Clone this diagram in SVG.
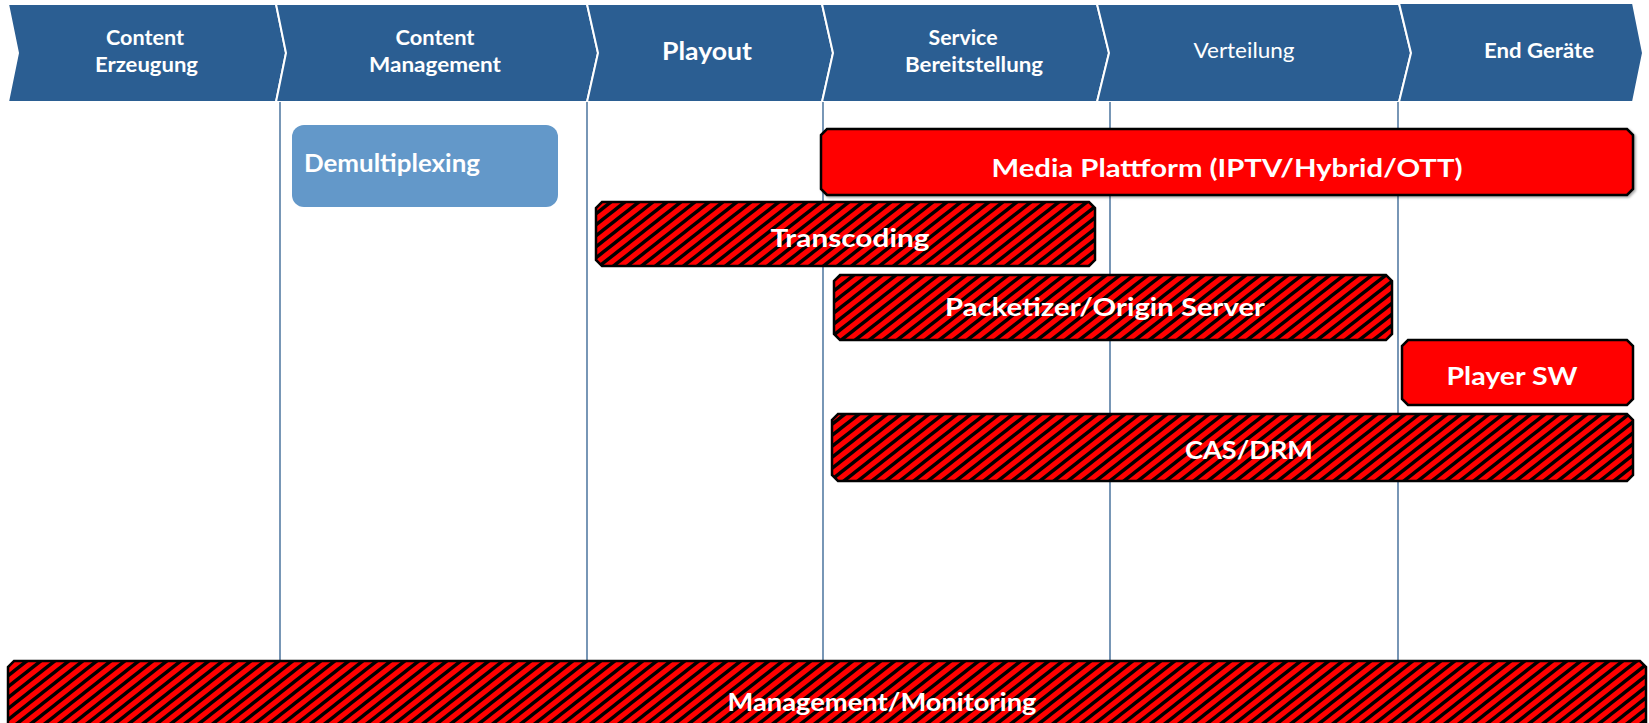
<svg xmlns="http://www.w3.org/2000/svg" width="1649" height="723" viewBox="0 0 1649 723">
  <defs>
    <style>
      .chev { fill: #2B5E92; stroke: #FFFFFF; stroke-width: 2; stroke-linejoin: miter; }
      .hdr { font-family: Lato, "Open Sans", sans-serif; font-size: 21px; font-weight: 700; fill: #FFFFFF; text-anchor: middle; }
      .hdr-big { font-size: 25px; }
      .hdr-reg { font-weight: 400; }
      .lane { stroke: #2F5F8F; stroke-width: 1.3; fill: none; }
      .box-solid { fill: #FF0000; stroke: #000000; stroke-width: 2.5; stroke-linejoin: miter; }
      .box-hatch { fill: url(#hatch); stroke: #000000; stroke-width: 2.5; stroke-linejoin: miter; }
      .box-blue { fill: #6398C9; }
      .lbl { font-family: Lato, "Open Sans", sans-serif; font-size: 25px; font-weight: 700; fill: #FFFFFF; text-anchor: middle; }
    </style>
    <!-- red field with dark upward diagonal stripes -->
    <pattern id="hatch" patternUnits="userSpaceOnUse" width="14" height="11">
      <rect width="14" height="11" fill="#FF0000"/>
      <path d="M-3.5,2.75 L3.5,-2.75 M0,11 L14,0 M10.5,13.75 L17.5,8.25" stroke="#000000" stroke-width="3.4"/>
    </pattern>
    <filter id="shadow" x="-5%" y="-20%" width="110%" height="140%">
      <feDropShadow dx="1.5" dy="1.5" stdDeviation="1" flood-color="#000000" flood-opacity="0.35"/>
    </filter>
  </defs>

  <!-- process stage chevrons -->
  <g id="header">
    <polygon id="stage-erzeugung" class="chev" points="8,4 276,4 286,53 276,102 8,102 18,53"/>
    <polygon id="stage-management" class="chev" points="276,4 587,4 598,53 587,102 276,102 286,53"/>
    <polygon id="stage-playout" class="chev" points="587,4 822,4 833,53 822,102 587,102 598,53"/>
    <polygon id="stage-service" class="chev" points="822,4 1097,4 1109,53 1097,102 822,102 833,53"/>
    <polygon id="stage-verteilung" class="chev" points="1097,4 1399,4 1411,53 1399,102 1097,102 1109,53"/>
    <polygon id="stage-endgeraete" class="chev" points="1399,3 1633,3 1643,53 1633,102 1399,102 1411,53"/>

    <text class="hdr" x="145" y="45" textLength="78" lengthAdjust="spacingAndGlyphs">Content</text>
    <text class="hdr" x="146.5" y="72" textLength="103" lengthAdjust="spacingAndGlyphs">Erzeugung</text>
    <text class="hdr" x="435" y="45" textLength="79" lengthAdjust="spacingAndGlyphs">Content</text>
    <text class="hdr" x="435" y="72" textLength="132" lengthAdjust="spacingAndGlyphs">Management</text>
    <text class="hdr hdr-big" x="707" y="60" textLength="90" lengthAdjust="spacingAndGlyphs">Playout</text>
    <text class="hdr" x="963" y="45" textLength="69" lengthAdjust="spacingAndGlyphs">Service</text>
    <text class="hdr" x="974" y="72" textLength="138" lengthAdjust="spacingAndGlyphs">Bereitstellung</text>
    <text class="hdr hdr-reg" x="1244" y="58" textLength="101" lengthAdjust="spacingAndGlyphs">Verteilung</text>
    <text class="hdr" x="1539" y="58" textLength="110" lengthAdjust="spacingAndGlyphs">End Geräte</text>
  </g>

  <!-- lane dividers -->
  <g id="connectors">
    <line class="lane" x1="280" y1="102" x2="280" y2="661"/>
    <line class="lane" x1="587" y1="102" x2="587" y2="661"/>
    <line class="lane" x1="823" y1="102" x2="823" y2="661"/>
    <line class="lane" x1="1110" y1="102" x2="1110" y2="661"/>
    <line class="lane" x1="1398" y1="102" x2="1398" y2="661"/>
  </g>

  <g id="demultiplexing">
    <rect class="box-blue" x="292" y="125" width="266" height="82" rx="12"/>
    <text class="lbl" x="304" y="172" style="text-anchor:start" textLength="176" lengthAdjust="spacingAndGlyphs">Demultiplexing</text>
  </g>

  <!-- bars with chamfered corners -->
  <g id="media-plattform">
    <path class="box-solid" filter="url(#shadow)" d="M827,129 H1627 L1633,135 V189 L1627,195 H827 L821,189 V135 Z"/>
    <text class="lbl" x="1227" y="177" textLength="471" lengthAdjust="spacingAndGlyphs">Media Plattform (IPTV/Hybrid/OTT)</text>
  </g>

  <g id="transcoding">
    <path class="box-hatch" d="M602,202 H1089 L1095,208 V260 L1089,266 H602 L596,260 V208 Z"/>
    <text class="lbl" x="850" y="247" textLength="159" lengthAdjust="spacingAndGlyphs">Transcoding</text>
  </g>

  <g id="packetizer">
    <path class="box-hatch" d="M840,275 H1386 L1392,281 V334 L1386,340 H840 L834,334 V281 Z"/>
    <text class="lbl" x="1105" y="316" textLength="320" lengthAdjust="spacingAndGlyphs">Packetizer/Origin Server</text>
  </g>

  <g id="player-sw">
    <path class="box-solid" d="M1408,340 H1627 L1633,346 V399 L1627,405 H1408 L1402,399 V346 Z"/>
    <text class="lbl" x="1512" y="385" textLength="131" lengthAdjust="spacingAndGlyphs">Player SW</text>
  </g>

  <g id="cas-drm">
    <path class="box-hatch" d="M838,414 H1627 L1633,420 V475 L1627,481 H838 L832,475 V420 Z"/>
    <text class="lbl" x="1249" y="459" textLength="128" lengthAdjust="spacingAndGlyphs">CAS/DRM</text>
  </g>

  <g id="management-monitoring">
    <path class="box-hatch" d="M14,661 H1640 L1646,667 V741 H8 V667 Z"/>
    <text class="lbl" x="882" y="711" textLength="309" lengthAdjust="spacingAndGlyphs">Management/Monitoring</text>
  </g>
</svg>
